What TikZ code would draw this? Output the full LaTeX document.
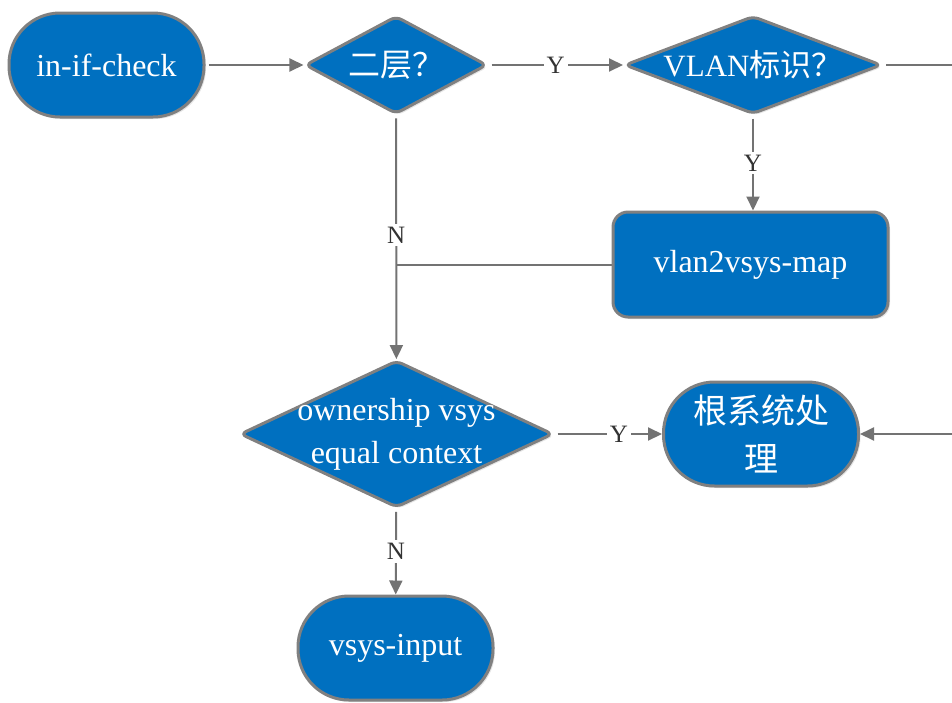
\documentclass[tikz,border=0pt]{standalone}
\usepackage{fontspec}
\setmainfont{Liberation Serif}
\newfontfamily\cjk{Noto Sans CJK SC}
\usetikzlibrary{shapes.geometric,arrows.meta,shadows}
\definecolor{boxblue}{RGB}{0,112,192}
\definecolor{boxgray}{RGB}{128,128,128}
\definecolor{linegray}{RGB}{115,115,115}
\pgfdeclarelayer{edgelayer}
\pgfdeclarelayer{nodelayer}
\pgfsetlayers{edgelayer,nodelayer,main}
\tikzstyle{shape base}=[fill=boxblue, draw=boxgray, line width=3pt, text=white, inner sep=0pt, drop shadow={shadow xshift=2pt, shadow yshift=-2pt, opacity=0.2}]
\tikzstyle{terminal}=[style=shape base, rectangle, rounded corners=51pt, minimum width=195pt, minimum height=104pt, font=\fontsize{32}{36}\selectfont]
\tikzstyle{process}=[style=shape base, rectangle, rounded corners=15pt, minimum width=275pt, minimum height=105pt, font=\fontsize{32}{36}\selectfont]
\tikzstyle{decision}=[style=shape base, diamond, rounded corners=6pt]
\tikzstyle{decision text}=[text=white, inner sep=0pt, align=center, font=\fontsize{32}{43}\selectfont]
\tikzstyle{edge}=[draw=linegray, line width=2pt]
\tikzstyle{arrow}=[style=edge, shorten <=3pt, -{Triangle[length=14pt,width=13pt]}]
\tikzstyle{answer}=[fill=white, text=black!80, inner sep=3pt, font=\fontsize{25}{25}\selectfont]

\begin{document}
\begin{tikzpicture}[x=1pt, y=-1pt]
	\useasboundingbox (0,0) rectangle (952,702);
	\begin{pgfonlayer}{nodelayer}
		\node [style=terminal] (1) at (106.5, 65) {in-if-check};
		\node [style=decision, minimum width=182pt, minimum height=98pt,
			label={[style=decision text]center:{\cjk 二层？}}] (2) at (396, 65) {};
		\node [style=decision, minimum width=257pt, minimum height=98pt,
			label={[style=decision text, font=\fontsize{31}{36}\selectfont]center:{VLAN\cjk 标识？}}] (3) at (753, 65) {};
		\node [style=process] (4) at (750.5, 264.5) {vlan2vsys-map};
		\node [style=decision, minimum width=313pt, minimum height=147pt,
			label={[style=decision text]center:{ownership vsys\\equal context}}] (5) at (396.5, 434) {};
		\node [style=terminal, align=center, font=\fontsize{34}{48}\selectfont] (6) at (761, 434) {{\cjk 根系统处}\\{\cjk 理}};
		\node [style=terminal] (7) at (395.5, 648) {vsys-input};
		\coordinate (8) at (397, 264.5);
		\coordinate (9) at (975, 65);
	\end{pgfonlayer}
	\begin{pgfonlayer}{edgelayer}
		\draw [style=arrow] (1) to (2);
		\draw [style=arrow] (2) to node[style=answer] {Y} (3);
		\draw [style=arrow] (3) to node[style=answer] {Y} (3 |- 4.north);
		\draw [style=arrow] (2) to node[style=answer, pos=0.49] {N} (5);
		\draw [style=edge] (4) to (8);
		\draw [style=arrow] (5) to node[style=answer, pos=0.6] {Y} (6);
		\draw [style=arrow] (5) to node[style=answer] {N} (7);
		\draw [style=arrow] (3.east) -- (9) |- (6.east);
	\end{pgfonlayer}
\end{tikzpicture}
\end{document}
